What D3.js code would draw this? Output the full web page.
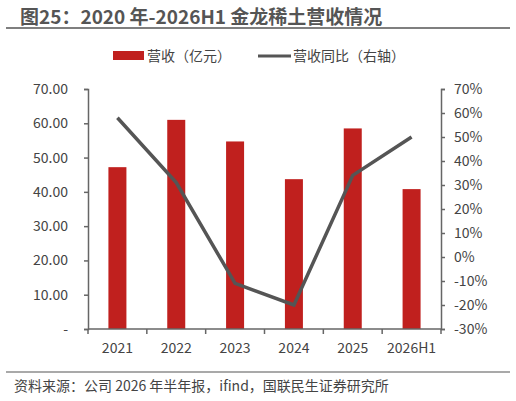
<!DOCTYPE html><html><head><meta charset="utf-8"><script src="https://cdn.jsdelivr.net/npm/d3@7"></script>
<style>body{margin:0;background:#fff}text{font-family:"Noto Sans CJK SC","Noto Sans",sans-serif}</style></head><body><svg id="c" width="516" height="401"></svg><script>
const categories=["2021","2022","2023","2024","2025","2026H1"];
const revenue=[47.2,61.0,54.7,43.7,58.5,40.8];
const yoy=[58,31,-11,-20,34,50];
const leftTicks=[0,10,20,30,40,50,60,70];
const rightTicks=[-30,-20,-10,0,10,20,30,40,50,60,70];
const svg=d3.select("#c");
const L=88,R=441,T=89,B=329;
const x=d3.scaleBand().domain(categories).range([L,R]);
const yl=d3.scaleLinear().domain([0,70]).range([B,T]);
const yr=d3.scaleLinear().domain([-30,70]).range([B,T]);
svg.append("text").attr("x",20).attr("y",24).attr("font-size",19).attr("font-weight","bold").attr("fill","#555").text("图25：2020 年-2026H1 金龙稀土营收情况");
svg.append("line").attr("x1",6).attr("x2",510).attr("y1",28).attr("y2",28).attr("stroke","#555").attr("stroke-width",1.5);
svg.append("rect").attr("x",113).attr("y",51).attr("width",31).attr("height",9).attr("fill","#c0201e");
svg.append("text").attr("x",147).attr("y",61).attr("font-size",14).attr("fill","#444").text("营收（亿元）");
svg.append("line").attr("x1",258).attr("x2",291).attr("y1",56).attr("y2",56).attr("stroke","#555").attr("stroke-width",3);
svg.append("text").attr("x",293).attr("y",61).attr("font-size",14).attr("fill","#444").text("营收同比（右轴）");
svg.selectAll(".b").data(revenue).join("rect").attr("fill","#c0201e")
 .attr("x",(d,i)=>x(categories[i])+x.bandwidth()/2-9).attr("width",18)
 .attr("y",d=>yl(d)).attr("height",d=>B-yl(d));
const axc="#666";
const gl=svg.append("g").attr("transform",`translate(${L},0)`).call(d3.axisLeft(yl).tickValues(leftTicks).tickSize(4).tickFormat(d=>d===0?"-":d.toFixed(2)));
const gr=svg.append("g").attr("transform",`translate(${R},0)`).call(d3.axisRight(yr).tickValues(rightTicks).tickSize(4).tickFormat(d=>d+"%"));
const gb=svg.append("g").attr("transform",`translate(0,${B})`).call(d3.axisBottom(x).tickSize(0).tickPadding(14));
const bt=svg.append("g");
[...categories.map(c=>x(c)),R].forEach(v=>bt.append("line").attr("x1",v).attr("x2",v).attr("y1",B).attr("y2",B+5).attr("stroke",axc).attr("stroke-width",1.5));
[gl,gr,gb].forEach(g=>{g.selectAll("path,line").attr("stroke",axc).attr("stroke-width",1.5);g.selectAll("text").attr("font-size",14).attr("fill","#444").attr("font-family","'Noto Sans CJK SC',sans-serif");});
gl.selectAll("text").attr("x",-20);
gr.selectAll("text").attr("x",13);
gb.select(".domain").attr("d",`M${L},0H${R}`);
svg.append("path").datum(yoy).attr("fill","none").attr("stroke","#555").attr("stroke-width",3.5)
 .attr("d",d3.line().x((d,i)=>x(categories[i])+x.bandwidth()/2).y(d=>yr(d)));
svg.append("line").attr("x1",6).attr("x2",510).attr("y1",372).attr("y2",372).attr("stroke","#555").attr("stroke-width",1.2);
svg.append("text").attr("x",14).attr("y",391).attr("font-size",14).attr("fill","#444").text("资料来源：公司 2026 年半年报，ifind，国联民生证券研究所");
</script></body></html>
